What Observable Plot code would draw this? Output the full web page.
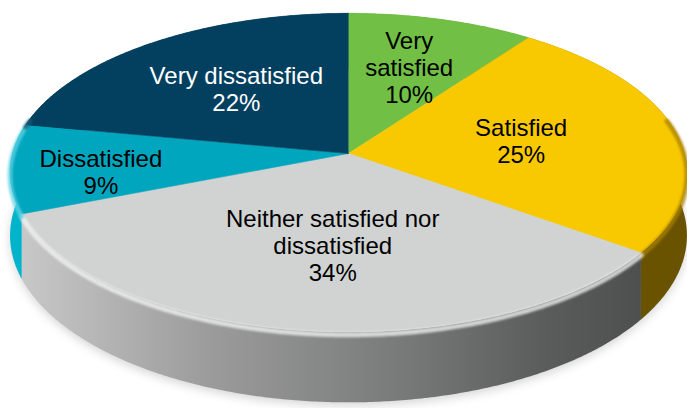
<!DOCTYPE html>
<html><head><meta charset="utf-8">
<script src="https://cdn.jsdelivr.net/npm/d3@7"></script>
<script src="https://cdn.jsdelivr.net/npm/@observablehq/plot@0.6"></script>
<style>html,body{margin:0;padding:0;background:#fff}</style>
</head><body><div id="chart"></div>
<script>
// ---- data ----
const categories = ["Very satisfied", "Satisfied", "Neither satisfied nor dissatisfied", "Dissatisfied", "Very dissatisfied"];
const labelText = ["Very\nsatisfied", "Satisfied", "Neither satisfied nor\ndissatisfied", "Dissatisfied", "Very dissatisfied"];
const values = [10, 25, 34, 9, 22];

// ---- styles ----
const topColors = ["#71bf45", "#f8c800", "#d1d3d3", "#00a6be", "#03405f"];
const wallColors = ["#4e8a2e", "#6a5300", "url(#grayWall)", "#00b4cc", "#022c42"];
const rimColors = ["#8fd46a", "#a88200", "#f4f5f5", "#5fd2e3", "#1c5a7a"];
const textColors = ["#000000", "#000000", "#000000", "#000000", "#ffffff"];
const labelFrac = [0.615, 0.51, 0.55, 0.74, 0.566];
const labelDx = [1, 5, 9, 2, 3];
const labelDy = [0, 0, 0, 7, 0];

// ---- layout (3D projection of the pie) ----
const W = 687, H = 408;
const cx = 348, cy = 153, R = 336, R2 = 157, persp = 0.12, depth = 62;
function proj(theta, r, z) {
  const v = -Math.cos(theta) * r, u = Math.sin(theta) * r;
  const s = 1 / (1 - persp * v);
  return [cx + R * u * s, cy + (R2 * v + z) * s];
}
const pie = d3.pie().sort(null).value(d => d)(values);
const step = Math.PI / 360;
function arcAngles(a0, a1) {
  const n = Math.max(2, Math.ceil((a1 - a0) / step));
  return d3.range(n + 1).map(k => a0 + (a1 - a0) * k / n);
}

const tops = [], walls = [], rims = [], shadow = [];
pie.forEach((p, i) => {
  const id = categories[i];
  const c = proj(0, 0, 0);
  tops.push({id, x: c[0], y: c[1], color: topColors[i]});
  for (const a of arcAngles(p.startAngle, p.endAngle)) {
    const q = proj(a, 1, 0);
    tops.push({id, x: q[0], y: q[1], color: topColors[i]});
  }
  const angs = arcAngles(p.startAngle, p.endAngle);
  for (const a of angs) { const q = proj(a, 1, 0); walls.push({id, x: q[0], y: q[1], color: wallColors[i]}); }
  for (const a of angs.slice().reverse()) { const q = proj(a, 1, depth); walls.push({id, x: q[0], y: q[1], color: wallColors[i]}); }
  const f0 = Math.max(p.startAngle, Math.acos(-persp) - 0.35), f1 = Math.min(p.endAngle, 2 * Math.PI - Math.acos(-persp) + 0.35);
  if (f1 > f0) {
    for (const a of arcAngles(f0, f1)) { const q = proj(a, 1, 2.5); rims.push({id, x: q[0], y: q[1], color: rimColors[i]}); }
  }
});
for (const a of arcAngles(0, 2 * Math.PI)) { const q = proj(a, 1.0, depth + 3); shadow.push({x: q[0], y: q[1]}); }

const labels = pie.map((p, i) => {
  const mid = (p.startAngle + p.endAngle) / 2;
  const q = proj(mid, labelFrac[i], 0);
  return {x: q[0] + labelDx[i], y: q[1] + labelDy[i], text: labelText[i] + "\n" + values[i] + "%", color: textColors[i]};
});

const chart = Plot.plot({
  width: W, height: H, margin: 0,
  style: {background: "#ffffff", overflow: "visible"},
  x: {domain: [0, W], range: [0, W], axis: null},
  y: {domain: [0, H], range: [0, H], axis: null},
  color: {type: "identity"},
  marks: [
    Plot.line(shadow, {x: "x", y: "y", fill: "#000000", fillOpacity: 0.16, stroke: "none"}),
    Plot.line(walls, {x: "x", y: "y", z: "id", fill: "color", stroke: "none"}),
    Plot.line(tops, {x: "x", y: "y", z: "id", fill: "color", stroke: "color", strokeWidth: 0.6}),
    Plot.line(rims, {x: "x", y: "y", z: "id", stroke: "color", strokeWidth: 5, strokeOpacity: 0.75}),
    Plot.text(labels, {x: "x", y: "y", text: "text", fill: "color", fontSize: 24, lineHeight: 1.13,
      textAnchor: "middle", lineAnchor: "middle", fontFamily: "Liberation Sans, Arial, Helvetica, sans-serif"})
  ]
});

const svg = d3.select(chart);
const defs = svg.insert("defs", ":first-child");
const g = defs.append("linearGradient").attr("id", "grayWall").attr("gradientUnits", "userSpaceOnUse")
  .attr("x1", 20).attr("x2", 640).attr("y1", 0).attr("y2", 0);
[[0, "#c8c8c8"], [0.3, "#9c9c9c"], [0.6, "#7a7b7b"], [0.85, "#5a5b5b"], [1, "#4e5050"]]
  .forEach(([o, c]) => g.append("stop").attr("offset", o).attr("stop-color", c));
defs.append("filter").attr("id", "blur").attr("x", "-10%").attr("y", "-10%").attr("width", "120%").attr("height", "130%")
  .append("feGaussianBlur").attr("stdDeviation", 5);
defs.append("filter").attr("id", "soft").attr("x", "-5%").attr("y", "-5%").attr("width", "110%").attr("height", "110%")
  .append("feGaussianBlur").attr("stdDeviation", 1.2);
const groups = chart.querySelectorAll(':scope > g');
if (groups.length) groups[0].setAttribute("filter", "url(#blur)");
if (groups.length > 3) groups[3].setAttribute("filter", "url(#soft)");

document.getElementById("chart").appendChild(chart);
</script>
</body></html>
